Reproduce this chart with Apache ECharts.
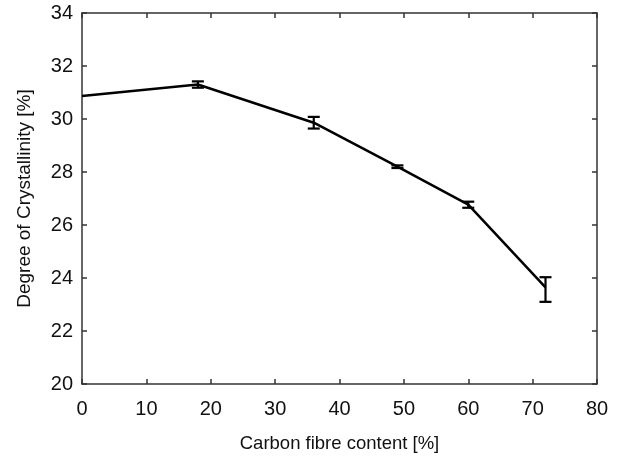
<!DOCTYPE html>
<html>
<head>
<meta charset="utf-8">
<script src="https://cdn.jsdelivr.net/npm/echarts@6/dist/echarts.min.js"></script>
<style>html,body{margin:0;padding:0;background:#fff}#c{width:623px;height:460px}</style>
</head>
<body>
<div id="c"></div>
<script>
var fibreContent = [0, 18, 36, 49, 60, 72];
var crystallinity = [30.87, 31.3, 29.86, 28.2, 26.77, 23.65];
var errLow = [30.87, 31.18, 29.64, 28.15, 26.65, 23.1];
var errHigh = [30.87, 31.42, 30.08, 28.25, 26.88, 24.03];
var xTicks = [0, 10, 20, 30, 40, 50, 60, 70, 80];
var yTicks = [20, 22, 24, 26, 28, 30, 32, 34];

var FONT = 'Liberation Sans, Arial, Helvetica, sans-serif';
var chart = echarts.init(document.getElementById('c'), null, {renderer: 'canvas'});

var lineData = fibreContent.map(function (x, i) { return [x, crystallinity[i]]; });
var errData = fibreContent.map(function (x, i) { return [x, errLow[i], errHigh[i]]; });

var axisLineStyle = {color: '#333', width: 1.5};
var baseX = {
  type: 'value', min: xTicks[0], max: xTicks[xTicks.length - 1], interval: 10,
  splitLine: {show: false},
  axisLine: {show: true, onZero: false, lineStyle: axisLineStyle},
  axisTick: {show: true, inside: true, length: 5, lineStyle: {color: '#333', width: 1.5}}
};
var baseY = {
  type: 'value', min: yTicks[0], max: yTicks[yTicks.length - 1], interval: 2,
  splitLine: {show: false},
  axisLine: {show: true, onZero: false, lineStyle: axisLineStyle},
  axisTick: {show: true, inside: true, length: 5, lineStyle: {color: '#333', width: 1.5}}
};

chart.setOption({
  animation: false,
  backgroundColor: '#fff',
  grid: {left: 82, top: 13, right: 26, bottom: 76},
  xAxis: [
    Object.assign({}, baseX, {
      position: 'bottom',
      name: 'Carbon fibre content [%]', nameLocation: 'middle', nameGap: 50,
      nameTextStyle: {fontFamily: FONT, fontSize: 18.5, color: '#111'},
      axisLabel: {fontFamily: FONT, fontSize: 20, color: '#111', margin: 15}
    }),
    Object.assign({}, baseX, {position: 'top', axisLabel: {show: false}})
  ],
  yAxis: [
    Object.assign({}, baseY, {
      position: 'left',
      name: 'Degree of Crystallinity [%]', nameLocation: 'middle', nameGap: 48,
      nameTextStyle: {fontFamily: FONT, fontSize: 19, color: '#111'},
      axisLabel: {fontFamily: FONT, fontSize: 20, color: '#111', margin: 9}
    }),
    Object.assign({}, baseY, {position: 'right', axisLabel: {show: false}})
  ],
  series: [
    {
      type: 'line', xAxisIndex: 0, yAxisIndex: 0,
      data: lineData, symbol: 'none',
      lineStyle: {color: '#000', width: 2.5}
    },
    {
      type: 'custom', xAxisIndex: 0, yAxisIndex: 0,
      data: errData,
      renderItem: function (params, api) {
        var x = api.value(0);
        var lo = api.coord([x, api.value(1)]);
        var hi = api.coord([x, api.value(2)]);
        if (Math.abs(lo[1] - hi[1]) < 0.5) return null;
        var w = 6;
        var st = {stroke: '#000', lineWidth: 2.2};
        return {
          type: 'group',
          children: [
            {type: 'line', shape: {x1: lo[0], y1: lo[1], x2: hi[0], y2: hi[1]}, style: st},
            {type: 'line', shape: {x1: lo[0] - w, y1: lo[1], x2: lo[0] + w, y2: lo[1]}, style: st},
            {type: 'line', shape: {x1: hi[0] - w, y1: hi[1], x2: hi[0] + w, y2: hi[1]}, style: st}
          ]
        };
      },
      z: 3
    }
  ]
});
</script>
</body>
</html>
